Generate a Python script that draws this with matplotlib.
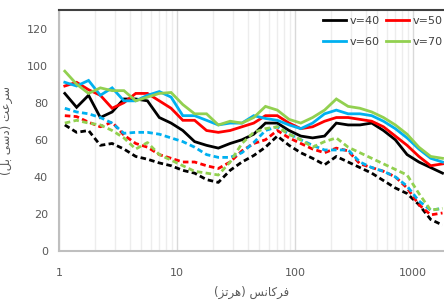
import numpy as np
import matplotlib
matplotlib.use("Agg")
import matplotlib.pyplot as plt
from matplotlib.ticker import FixedLocator, NullFormatter

# 1/3 octave frequencies (Hz)
freq = [1.12, 1.41, 1.78, 2.24, 2.82, 3.55, 4.47, 5.62, 7.08, 8.91,
        11.2, 14.1, 17.8, 22.4, 28.2, 35.5, 44.7, 56.2, 70.8, 89.1,
        112, 141, 178, 224, 282, 355, 447, 562, 708, 891,
        1122, 1413, 1778]

# solid lines
v40 = [85, 77.5, 84, 72, 75, 82, 82, 81, 72, 69,
       65, 59, 57, 55.5, 58, 60, 63, 69, 69, 65,
       62, 61, 62, 69, 68, 68, 69, 65, 60, 52,
       48, 45, 42]
v50 = [89, 91, 87, 84, 77, 80, 85, 85, 81, 77,
       70.5, 70.5, 65, 64, 65, 67, 69, 73, 73, 69,
       66, 67, 70, 72, 72, 71, 70, 67, 62, 57,
       51, 46, 47]
v60 = [91, 89, 92, 84, 88, 81, 81, 84, 86, 83,
       73, 73, 70.5, 68, 69, 69, 73, 71.5, 70.5, 68,
       66, 69, 74, 76, 74, 74, 73, 70, 66, 61,
       55, 50, 48]
v70 = [97, 90, 85, 88, 86.5, 86.5, 81, 83, 85, 85.5,
       79, 74, 74, 68, 70, 69, 72, 78, 76, 71,
       69, 72, 76, 82, 78, 77, 75, 72, 68, 63,
       56, 51, 50]

# dashed lines
v40_d = [68, 64, 65, 57, 58, 55, 51, 49.5, 47.5, 46,
         43.5, 42, 38.5, 37, 43.5, 48, 51.5, 56, 62, 57,
         53, 50, 46.5, 51, 48, 45, 42, 38, 34, 31,
         25, 17, 14]
v50_d = [73, 72.5, 69.5, 67, 69.5, 62.5, 58, 56, 52, 50,
         48, 48, 46, 44.5, 48, 54, 58, 60, 65, 61,
         58, 55, 53, 55.5, 54, 47, 45, 43, 40, 34,
         25, 19.5, 20.5]
v60_d = [77, 75, 74, 72, 69, 63.5, 64, 64, 63, 61,
         59, 56, 52, 50.5, 50.5, 53, 58.5, 65, 67, 63,
         60, 57, 54.5, 54.5, 54.5, 48, 45, 43, 40, 35,
         27, 22, 23]
v70_d = [69, 70.5, 69, 68, 65, 61, 55, 58.5, 52, 49,
         46, 43, 42, 41, 48, 58, 64, 66, 67, 63,
         60, 56, 59, 61, 56, 53, 50, 47, 44, 41,
         31, 22, 23]

labels = ["v=40", "v=50", "v=60", "v=70"]
colors = ["#000000", "#FF0000", "#00B0F0", "#92D050"]

# persian labels, pre-shaped into presentation forms (visual order)
xlabel = "(\uFEB0\uFE97\uFEAE\uFEEB) \uFEB2\uFEE7\uFE8E\uFB90\uFEAE\uFED3"
ylabel = "(\uFEDE\uFE91 \uFBFD\uFEB3\uFEA9) \uFE96\uFECB\uFEAE\uFEB3"

plt.rcParams['font.family'] = ['DejaVu Sans']

fig = plt.figure(figsize=(4.44, 3.07), dpi=100)
ax = fig.add_axes([59 / 444, 56 / 307, 385 / 444, 241 / 307])

solid = [v40, v50, v60, v70]
dashed = [v40_d, v50_d, v60_d, v70_d]
handles = []
for ys, c, lab in zip(solid, colors, labels):
    h, = ax.plot(freq, ys, color=c, lw=2.0, label=lab, solid_joinstyle="miter")
    handles.append(h)
for ys, c in zip(dashed, colors):
    ax.plot(freq, ys, color=c, lw=2.0, dashes=(2.0, 1.2), dash_capstyle="butt")

ax.set_xscale("log")
ax.set_xlim(1, 10 ** (385 / 118))
ax.set_ylim(0, 130)
ax.set_yticks([0, 20, 40, 60, 80, 100, 120])
ax.xaxis.set_major_locator(FixedLocator([1, 10, 100, 1000]))
ax.set_xticklabels(["1", "10", "100", "1000"])
minors = [m * 10 ** e for e in range(0, 4) for m in range(2, 10)]
ax.xaxis.set_minor_locator(FixedLocator(minors))
ax.xaxis.set_minor_formatter(NullFormatter())

ax.grid(True, which="major", axis="x", color="#D9D9D9", lw=1.0)
ax.grid(True, which="minor", axis="x", color="#EDEDED", lw=1.0)
ax.set_axisbelow(True)

ax.tick_params(which="both", length=0, labelsize=8, labelcolor="#595959")
ax.tick_params(axis="x", pad=12)
ax.tick_params(axis="y", pad=8)

for s in ["left", "bottom"]:
    ax.spines[s].set_color("#BFBFBF")
    ax.spines[s].set_linewidth(1.5)
ax.spines["right"].set_visible(False)
ax.spines["top"].set_color("#404040")
ax.spines["top"].set_linewidth(1.5)

ax.set_xlabel(xlabel, fontsize=8.5, color="#595959", labelpad=6)
ax.set_ylabel(ylabel, fontsize=8.5, color="#595959", labelpad=10)

# rows: v=40 v=50 / v=60 v=70
order = [0, 2, 1, 3]
ax.legend([handles[i] for i in order], [labels[i] for i in order],
          loc="upper right", bbox_to_anchor=(0.997, 0.975), ncol=2, frameon=False,
          fontsize=8, handlelength=2.1, handletextpad=0.3, columnspacing=0.6,
          labelspacing=1.0, borderpad=0, borderaxespad=0, labelcolor="#404040")

fig.savefig("out.png", dpi=100)
